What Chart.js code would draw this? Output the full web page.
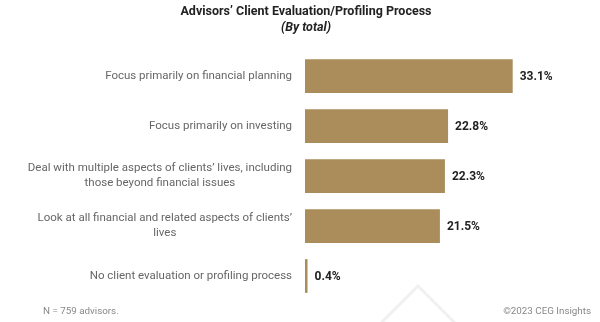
<!DOCTYPE html>
<html>
<head>
<meta charset="utf-8">
<script src="https://cdn.jsdelivr.net/npm/chart.js@4"></script>
<style>
  html, body { margin: 0; padding: 0; background: #fff; }
  canvas { display: block; }
</style>
</head>
<body>
<canvas id="chart" width="600" height="322"></canvas>
<script>
// Survey responses, share of advisors (%)
const categories = [
  ['Focus primarily on financial planning'],
  ['Focus primarily on investing'],
  ['Deal with multiple aspects of clients\u2019 lives, including', 'those beyond financial issues'],
  ['Look at all financial and related aspects of clients\u2019', 'lives'],
  ['No client evaluation or profiling process']
];
const shares = [33.1, 22.8, 22.3, 21.5, 0.4];

const titleText = 'Advisors\u2019 Client Evaluation/Profiling Process';
const subtitleText = '(By total)';
const noteText = 'N = 759 advisors.';
const creditText = '\u00a92023 CEG Insights';

const FONT = 'Roboto, "Liberation Sans", Arial, sans-serif';
const BAR_COLOR = '#aa8d5a';

// Category labels: each block right-aligned next to the bars, lines centered within it
const categoryLabels = {
  id: 'categoryLabels',
  afterDraw(chart) {
    const { ctx } = chart;
    const y = chart.scales.y;
    const right = chart.chartArea.left - 13;
    const lineH = 15;
    ctx.save();
    ctx.font = '11.5px ' + FONT;
    ctx.fillStyle = '#666';
    ctx.textBaseline = 'middle';
    ctx.textAlign = 'center';
    categories.forEach((lines, i) => {
      const cy = y.getPixelForValue(i);
      const w = Math.max(...lines.map(l => ctx.measureText(l).width));
      const cx = right - w / 2;
      const top = cy - (lines.length - 1) * lineH / 2;
      lines.forEach((l, k) => ctx.fillText(l, cx, top + k * lineH));
    });
    ctx.restore();
  }
};

// Percentage labels just past the end of each bar
const valueLabels = {
  id: 'valueLabels',
  afterDatasetsDraw(chart) {
    const { ctx } = chart;
    const meta = chart.getDatasetMeta(0);
    ctx.save();
    ctx.font = 'bold 12px ' + FONT;
    ctx.fillStyle = '#222';
    ctx.textBaseline = 'middle';
    ctx.textAlign = 'left';
    meta.data.forEach((bar, i) => {
      ctx.fillText(shares[i].toFixed(1) + '%', bar.x + 7, bar.y + 1);
    });
    ctx.restore();
  }
};

// Title, subtitle, footnotes and the faint background chevron
const decorations = {
  id: 'decorations',
  beforeDraw(chart) {
    const { ctx } = chart;
    ctx.save();
    ctx.fillStyle = '#fff';
    ctx.fillRect(0, 0, chart.width, chart.height);
    ctx.strokeStyle = '#eff1ef';
    ctx.lineWidth = 3;
    ctx.beginPath();
    ctx.moveTo(381, 323);
    ctx.lineTo(418, 286);
    ctx.lineTo(455, 323);
    ctx.stroke();
    ctx.restore();
  },
  afterDraw(chart) {
    const { ctx } = chart;
    ctx.save();
    ctx.textBaseline = 'middle';
    ctx.textAlign = 'center';
    ctx.fillStyle = '#222';
    ctx.font = 'bold 12.5px ' + FONT;
    ctx.fillText(titleText, 306, 12);
    ctx.font = 'italic bold 12.5px ' + FONT;
    ctx.fillText(subtitleText, 306, 28);
    ctx.font = '9.8px ' + FONT;
    ctx.fillStyle = '#888';
    ctx.textAlign = 'left';
    ctx.fillText(noteText, 43, 312);
    ctx.textAlign = 'right';
    ctx.fillText(creditText, 591, 312);
    ctx.restore();
  }
};

new Chart(document.getElementById('chart'), {
  type: 'bar',
  data: {
    labels: categories,
    datasets: [{
      data: shares,
      backgroundColor: BAR_COLOR,
      borderWidth: 0,
      barPercentage: 0.675,
      categoryPercentage: 1
    }]
  },
  options: {
    indexAxis: 'y',
    responsive: false,
    animation: false,
    devicePixelRatio: 1,
    layout: { padding: { left: 305, right: 44, top: 51, bottom: 21 } },
    scales: {
      x: { display: false, min: 0, max: 40 },
      y: { display: false }
    },
    plugins: {
      legend: { display: false },
      tooltip: { enabled: false }
    }
  },
  plugins: [decorations, categoryLabels, valueLabels]
});
</script>
</body>
</html>
